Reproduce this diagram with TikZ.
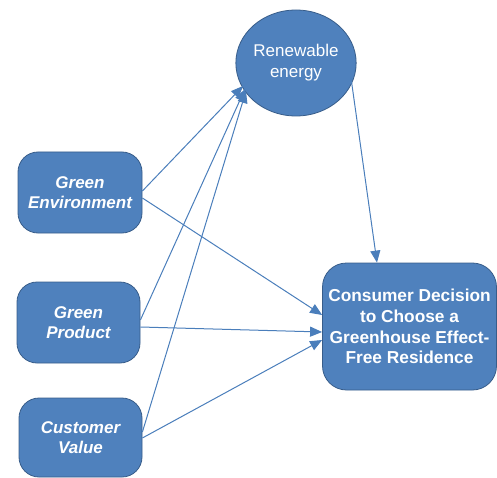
\documentclass[tikz,border=0pt]{standalone}
\usepackage{fontspec}
\setmainfont{Liberation Sans}
\usetikzlibrary{arrows.meta,calc,shapes.geometric}
\definecolor{boxfill}{HTML}{4F81BD}
\definecolor{boxline}{HTML}{385D8A}
\definecolor{conn}{HTML}{4A7EBB}
\tikzset{
  factor/.style={draw=boxline, line width=0.8pt, fill=boxfill, rounded corners=20pt,
    text=white, align=center, inner sep=0pt,
    font=\fontsize{17}{20.5}\selectfont\bfseries\itshape},
  goal/.style={draw=boxline, line width=0.8pt, fill=boxfill, rounded corners=24pt,
    text=white, align=center, inner sep=0pt,
    font=\fontsize{17.3}{20.8}\selectfont\bfseries},
  mediator/.style={ellipse, draw=boxline, line width=0.8pt, fill=boxfill,
    text=white, align=center, inner sep=0pt,
    font=\fontsize{17}{21}\selectfont},
  link/.style={draw=conn, line width=1pt, -{Triangle[length=12pt,width=10pt]}}
}
\begin{document}
\begin{tikzpicture}[x=1pt,y=-1pt]
\useasboundingbox (0,0) rectangle (497,478);
\node[factor, minimum width=124pt, minimum height=81pt] (ge) at (80,192.5) {Green\\Environment};
\node[factor, minimum width=123pt, minimum height=81pt] (gp) at (78.5,322.5) {Green\\Product};
\node[factor, minimum width=123pt, minimum height=79pt] (cv) at (80.5,437.5) {Customer\\Value};
\node[mediator, minimum width=112pt, minimum height=106pt] (re) at (296,63) {Renewable\\energy};
\node[goal, minimum width=174pt, minimum height=127pt] (cd) at (409.5,326.5) {Consumer Decision\\to Choose a\\Greenhouse Effect-\\Free Residence};
\coordinate (t1) at ($(re.center)+(-53,23)$);
\coordinate (t2) at ($(re.center)+(-51,26)$);
\coordinate (t3) at ($(re.center)+(-50,28)$);
\draw[link] ([yshift=1.5pt]ge.east) -- (t1);
\draw[link] ([yshift=2.5pt]gp.east) -- (t2);
\draw[link] ([yshift=5.5pt]cv.east) -- (t3);
\draw[link] ([yshift=-5.5pt]ge.east) -- ([yshift=11.5pt]cd.west);
\draw[link] ([yshift=-4.5pt]gp.east) -- ([yshift=-5.5pt]cd.west);
\draw[link] ([yshift=-0.5pt]cv.east) -- ([yshift=-13.5pt]cd.west);
\draw[link] ($(re.center)+(55,15)$) -- ([xshift=-32.5pt]cd.north);
\end{tikzpicture}
\end{document}
